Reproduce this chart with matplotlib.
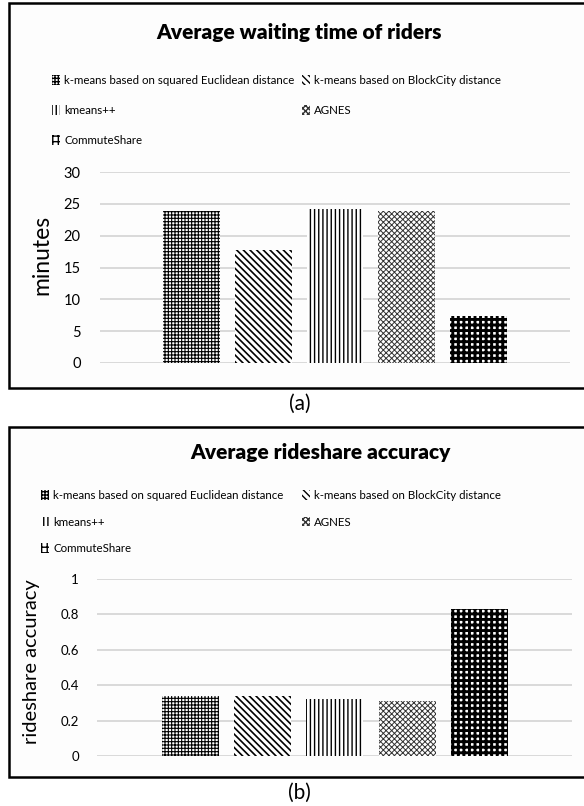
import numpy as np
import matplotlib
matplotlib.use("Agg")
import matplotlib.pyplot as plt
from matplotlib.patches import Rectangle, Patch

plt.rcParams['font.family'] = ['Lato', 'DejaVu Sans']

methods = ['k-means based on squared Euclidean distance',
           'k-means based on BlockCity distance',
           'kmeans++',
           'AGNES',
           'CommuteShare']
wait_minutes = [23.9, 17.7, 24.2, 23.8, 7.4]
accuracy = [0.34, 0.34, 0.322, 0.308, 0.83]

# hatch look per method (face, hatch colour, hatch, hatch linewidth)
styles = [('white', 'black', '+++++', 0.8),
          ('white', 'black', '\\\\\\\\\\', 1.2),
          ('white', 'black', '||||', 1.0),
          ('white', '#333333', 'xxxxxx', 0.7),
          ('white', 'black', '+++', 2.1)]

W, H = 584, 806
fig = plt.figure(figsize=(W / 100, H / 100), dpi=100)


def fx(px):
    return px / W


def fy(py):
    return 1 - py / H


def frame(top, bottom):
    fig.patches.append(Rectangle((fx(9), fy(bottom)), fx(600), fy(top) - fy(bottom),
                                 transform=fig.transFigure, facecolor='#fdfdfd',
                                 edgecolor='black', linewidth=1.8, zorder=-5))


def bars(ax, values):
    x = np.arange(len(methods))
    rects = ax.bar(x, values, width=0.79, zorder=2)
    for r, (fc, hc, hatch, hlw) in zip(rects, styles):
        r.set_facecolor(fc)
        r.set_edgecolor(hc)
        r.set_linewidth(0)
        r.set_hatch(hatch)
        if hasattr(r, 'set_hatch_linewidth'):
            r.set_hatch_linewidth(hlw)
    return x


def style_axes(ax):
    for s in ax.spines.values():
        s.set_visible(False)
    ax.set_xticks([])
    ax.grid(axis='y', color='#d4d4d4', linewidth=1.2, zorder=0)
    ax.set_axisbelow(True)
    ax.set_facecolor('none')
    ax.tick_params(axis='y', length=0)


def legend(x0, y0, fs, rowsp, colsp):
    handles = []
    for m, (fc, hc, hatch, hlw) in zip(methods, styles):
        p = Patch(facecolor=fc, edgecolor=hc, hatch=hatch, linewidth=0, label=m)
        handles.append(p)
    order = [0, 2, 4, 1, 3]
    leg = fig.legend([handles[i] for i in order], [methods[i] for i in order],
                     ncol=2, loc='upper left', bbox_to_anchor=(fx(x0), fy(y0)),
                     frameon=False, fontsize=fs, handlelength=0.7, handleheight=0.9,
                     handletextpad=0.35, labelspacing=rowsp, columnspacing=colsp,
                     borderaxespad=0, borderpad=0)
    return leg


# ---- panel (a)
frame(3, 388)
ax1 = fig.add_axes([fx(100), fy(363), fx(470), fy(172) - fy(363)])
bars(ax1, wait_minutes)
style_axes(ax1)
ax1.set_ylim(0, 30)
ax1.set_yticks(range(0, 31, 5))
ax1.set_xlim(-1.27, 5.27)
ax1.tick_params(axis='y', labelsize=10.5, pad=14)
fig.text(fx(42), fy(255), 'minutes', rotation=90, ha='center', va='center', fontsize=16.5)
fig.text(fx(299), fy(33), 'Average waiting time of riders', ha='center', va='center',
         fontsize=15, fontweight='heavy')
legend(52, 75, 8.3, 1.65, 0.65)
fig.text(fx(300), fy(404), '(a)', ha='center', va='center', fontsize=15)

# ---- panel (b)
frame(427, 777)
ax2 = fig.add_axes([fx(97), fy(756), fx(475), fy(579) - fy(756)])
bars(ax2, accuracy)
style_axes(ax2)
ax2.set_ylim(0, 1)
ax2.set_yticks([0, 0.2, 0.4, 0.6, 0.8, 1])
ax2.set_yticklabels(['0', '0.2', '0.4', '0.6', '0.8', '1'])
ax2.set_xlim(-1.29, 5.28)
ax2.tick_params(axis='y', labelsize=9.5, pad=13)
fig.text(fx(32), fy(662), 'rideshare accuracy', rotation=90, ha='center', va='center',
         fontsize=14.5)
fig.text(fx(320), fy(453), 'Average rideshare accuracy', ha='center', va='center',
         fontsize=15, fontweight='heavy')
legend(41, 490, 8.3, 1.35, 1.6)
fig.text(fx(299), fy(793), '(b)', ha='center', va='center', fontsize=15)

fig.savefig('out.png', dpi=100, facecolor='white')
